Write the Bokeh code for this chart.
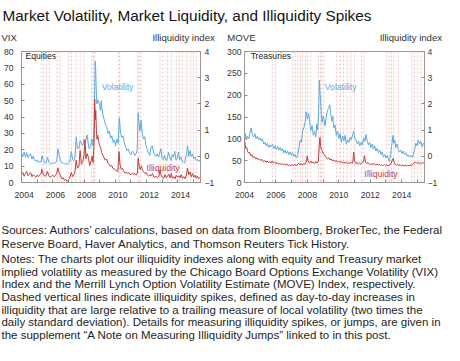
from bokeh.plotting import figure
from bokeh.layouts import column, row
from bokeh.models import Range1d, LinearAxis, FixedTicker, Label, Span, CustomJSTickFormatter
from bokeh.core.properties import value
from bokeh.embed import file_html
from bokeh.resources import INLINE

FONT = "Liberation Sans"
BLUE = "#5aaae0"
RED = "#c23c3c"
SPIKE = "#efc2c2"
AXC = "#333333"

# ---------------- data (decimal years) ----------------
vix_x = [2004.00, 2004.08, 2004.17, 2004.25, 2004.33, 2004.42, 2004.50, 2004.58, 2004.67, 2004.75, 2004.83, 2004.92,
         2005.00, 2005.08, 2005.17, 2005.25, 2005.31, 2005.40, 2005.50, 2005.58, 2005.66, 2005.75, 2005.83, 2005.92,
         2006.00, 2006.08, 2006.17, 2006.25, 2006.33, 2006.42, 2006.50, 2006.58, 2006.67, 2006.75, 2006.83, 2006.92,
         2007.00, 2007.08, 2007.19, 2007.27, 2007.35, 2007.42, 2007.50, 2007.58, 2007.67, 2007.75, 2007.83, 2007.92,
         2008.00, 2008.08, 2008.20, 2008.27, 2008.33, 2008.42, 2008.50, 2008.58, 2008.64, 2008.69, 2008.72, 2008.75,
         2008.78, 2008.82, 2008.88, 2008.94, 2009.00, 2009.05, 2009.10, 2009.15, 2009.22, 2009.30, 2009.38, 2009.46,
         2009.54, 2009.62, 2009.70, 2009.78, 2009.86, 2009.94, 2010.02, 2010.10, 2010.18, 2010.26, 2010.33, 2010.42,
         2010.50, 2010.58, 2010.67, 2010.75, 2010.83, 2010.92, 2011.00, 2011.08, 2011.17, 2011.25, 2011.33, 2011.40,
         2011.46, 2011.52, 2011.58, 2011.65, 2011.72, 2011.80, 2011.88, 2011.96, 2012.04, 2012.12, 2012.20, 2012.28,
         2012.36, 2012.44, 2012.52, 2012.60, 2012.68, 2012.76, 2012.84, 2012.92, 2013.00, 2013.08, 2013.16, 2013.24,
         2013.32, 2013.40, 2013.48, 2013.56, 2013.64, 2013.72, 2013.80, 2013.88, 2013.96, 2014.04, 2014.12, 2014.20,
         2014.28, 2014.36, 2014.44, 2014.50, 2014.56, 2014.62, 2014.70, 2014.78, 2014.86, 2014.94, 2015.02, 2015.10,
         2015.18, 2015.26, 2015.34, 2015.42]
vix_y = [17.7, 15.8, 18.6, 15.5, 18.2, 15.2, 16.8, 17.6, 14.3, 16.2, 13.6, 13.0,
         13.8, 12.0, 13.2, 12.4, 16.4, 13.5, 11.8, 12.2, 15.5, 12.4, 11.6, 11.4,
         12.2, 11.6, 12.0, 13.0, 20.6, 16.0, 13.2, 12.0, 11.8, 11.2, 11.6, 11.0,
         11.8, 12.4, 19.0, 14.0, 13.2, 15.5, 27.6, 21.0, 20.5, 25.5, 24.0, 22.5,
         26.5, 25.0, 29.0, 23.5, 20.5, 22.0, 26.5, 22.5, 32.0, 60.0, 74.0, 68.0,
         57.0, 48.0, 50.5, 49.0, 47.0, 44.0, 50.0, 45.0, 41.0, 38.0, 35.0, 33.5,
         30.0, 31.5, 27.0, 28.5, 24.5, 26.0, 22.5, 26.5, 24.0, 39.5, 30.5, 27.5,
         28.5, 24.0, 21.5, 19.5, 20.5, 18.0, 17.0, 19.0, 18.5, 16.5, 17.5, 20.0,
         42.5, 36.0, 31.5, 38.0, 30.0, 26.5, 28.0, 23.0, 20.0, 18.0, 16.5, 21.5,
         22.5, 19.0, 17.0, 16.0, 17.5, 15.5, 18.0, 20.5, 14.5, 14.0, 16.5, 13.5,
         14.0, 18.5, 16.0, 13.5, 17.0, 15.5, 19.0, 13.8, 14.5, 18.5, 14.0, 15.5,
         13.0, 12.5, 11.8, 15.5, 17.0, 22.5, 16.0, 19.5, 16.0, 17.5, 14.5, 15.5,
         13.5, 14.0, 12.8, 14.0]

eq_ill_x = [2004.00, 2004.08, 2004.17, 2004.25, 2004.33, 2004.42, 2004.50, 2004.58, 2004.67, 2004.75, 2004.83, 2004.92,
            2005.00, 2005.08, 2005.17, 2005.25, 2005.30, 2005.40, 2005.50, 2005.58, 2005.66, 2005.75, 2005.83, 2005.92,
            2006.00, 2006.08, 2006.17, 2006.25, 2006.32, 2006.40, 2006.50, 2006.58, 2006.67, 2006.75, 2006.83, 2006.92,
            2007.00, 2007.08, 2007.19, 2007.27, 2007.35, 2007.42, 2007.50, 2007.58, 2007.67, 2007.75, 2007.83, 2007.92,
            2008.00, 2008.06, 2008.12, 2008.20, 2008.28, 2008.36, 2008.44, 2008.52, 2008.58, 2008.64, 2008.68, 2008.72,
            2008.75, 2008.79, 2008.83, 2008.88, 2008.94, 2009.00, 2009.06, 2009.12, 2009.20, 2009.28, 2009.36, 2009.44,
            2009.52, 2009.60, 2009.68, 2009.76, 2009.84, 2009.92, 2010.00, 2010.08, 2010.16, 2010.24, 2010.30, 2010.38,
            2010.46, 2010.54, 2010.62, 2010.70, 2010.78, 2010.86, 2010.94, 2011.02, 2011.10, 2011.18, 2011.26, 2011.34,
            2011.41, 2011.47, 2011.53, 2011.60, 2011.67, 2011.74, 2011.82, 2011.90, 2011.98, 2012.06, 2012.14, 2012.22,
            2012.30, 2012.38, 2012.46, 2012.54, 2012.62, 2012.70, 2012.78, 2012.86, 2012.94, 2013.02, 2013.10, 2013.18,
            2013.26, 2013.34, 2013.42, 2013.50, 2013.58, 2013.66, 2013.74, 2013.82, 2013.90, 2013.98, 2014.06, 2014.14,
            2014.22, 2014.30, 2014.38, 2014.46, 2014.54, 2014.62, 2014.70, 2014.78, 2014.86, 2014.94, 2015.02, 2015.10,
            2015.18, 2015.26, 2015.34, 2015.42]
eq_ill_y = [-0.70, -0.62, -0.76, -0.66, -0.58, -0.74, -0.68, -0.62, -0.78, -0.70, -0.75, -0.80,
            -0.72, -0.78, -0.70, -0.66, -0.50, -0.70, -0.76, -0.72, -0.58, -0.74, -0.80, -0.76,
            -0.72, -0.78, -0.74, -0.66, -0.44, -0.62, -0.74, -0.86, -0.82, -0.92, -0.88, -0.96,
            -0.90, -0.84, -0.62, -0.78, -0.70, -0.58, -0.15, -0.45, -0.40, 0.22, -0.30, -0.20,
            0.05, 0.62, -0.10, 0.10, -0.05, -0.35, -0.20, 0.00, -0.25, 0.50, 2.18, 1.40,
            1.75, 1.00, 0.65, 0.80, 0.55, 0.40, 0.35, 0.15, 0.05, -0.05, -0.15, -0.10,
            -0.25, -0.30, -0.38, -0.35, -0.45, -0.48, -0.52, -0.56, -0.58, 0.18, -0.30, -0.50,
            -0.46, -0.58, -0.64, -0.60, -0.66, -0.62, -0.70, -0.68, -0.64, -0.70, -0.66, -0.72,
            -0.64, -0.07, -0.40, -0.50, -0.36, -0.55, -0.60, -0.66, -0.62, -0.72, -0.76, -0.70,
            -0.74, -0.66, -0.78, -0.80, -0.76, -0.82, -0.78, -0.52, -0.74, -0.80, -0.84, -0.70,
            -0.82, -0.76, -0.68, -0.82, -0.66, -0.84, -0.78, -0.86, -0.72, -0.80, -0.74, -0.82,
            -0.70, -0.84, -0.78, -0.86, -0.74, -0.45, -0.70, -0.60, -0.78, -0.66, -0.80, -0.72,
            -0.84, -0.76, -0.86, -0.80]

move_x = [2004.00, 2004.05, 2004.10, 2004.18, 2004.26, 2004.34, 2004.42, 2004.50, 2004.58, 2004.66, 2004.74, 2004.82,
          2004.90, 2004.98, 2005.06, 2005.14, 2005.22, 2005.30, 2005.38, 2005.46, 2005.54, 2005.62, 2005.70, 2005.78,
          2005.86, 2005.94, 2006.02, 2006.10, 2006.18, 2006.26, 2006.34, 2006.42, 2006.50, 2006.58, 2006.66, 2006.74,
          2006.82, 2006.90, 2006.98, 2007.06, 2007.14, 2007.22, 2007.30, 2007.38, 2007.46, 2007.54, 2007.62, 2007.70,
          2007.78, 2007.86, 2007.92, 2008.00, 2008.08, 2008.14, 2008.22, 2008.30, 2008.38, 2008.46, 2008.54, 2008.60,
          2008.66, 2008.72, 2008.76, 2008.80, 2008.84, 2008.88, 2008.94, 2009.00, 2009.06, 2009.12, 2009.20, 2009.28,
          2009.36, 2009.42, 2009.48, 2009.56, 2009.62, 2009.68, 2009.76, 2009.84, 2009.92, 2010.00, 2010.08, 2010.16,
          2010.24, 2010.32, 2010.40, 2010.48, 2010.56, 2010.64, 2010.72, 2010.80, 2010.88, 2010.95, 2011.02, 2011.10,
          2011.18, 2011.26, 2011.34, 2011.42, 2011.50, 2011.58, 2011.66, 2011.72, 2011.80, 2011.88, 2011.96, 2012.04,
          2012.12, 2012.20, 2012.28, 2012.36, 2012.44, 2012.52, 2012.60, 2012.68, 2012.76, 2012.84, 2012.92, 2013.00,
          2013.08, 2013.16, 2013.22, 2013.30, 2013.38, 2013.44, 2013.50, 2013.56, 2013.62, 2013.70, 2013.78, 2013.86,
          2013.94, 2014.02, 2014.10, 2014.18, 2014.26, 2014.34, 2014.42, 2014.50, 2014.58, 2014.66, 2014.74, 2014.82,
          2014.90, 2014.98, 2015.06, 2015.14, 2015.22, 2015.30, 2015.38, 2015.44]
move_y = [102, 112, 98, 106, 100, 112, 125, 110, 104, 112, 100, 106,
          98, 102, 95, 100, 88, 92, 84, 90, 80, 86, 82, 88,
          78, 84, 76, 82, 74, 80, 72, 78, 68, 74, 66, 72,
          64, 70, 62, 68, 60, 64, 56, 62, 78, 97, 92, 118,
          126, 140, 162, 145, 159, 141, 119, 130, 108, 118, 104, 134,
          120, 170, 234, 209, 188, 159, 137, 152, 145, 130, 150, 165,
          172, 178, 158, 140, 152, 125, 132, 108, 118, 100, 112, 92,
          106, 96, 108, 88, 98, 92, 104, 98, 110, 117, 100, 98,
          88, 95, 84, 92, 86, 102, 94, 110, 96, 86, 92, 80,
          88, 76, 84, 72, 78, 68, 74, 64, 70, 58, 64, 56,
          62, 52, 48, 66, 88, 108, 90, 97, 80, 88, 76, 70,
          74, 66, 72, 64, 68, 60, 63, 58, 62, 58, 64, 76,
          90, 84, 97, 88, 94, 82, 90, 86]

tr_ill_x = [2004.00, 2004.04, 2004.08, 2004.14, 2004.20, 2004.26, 2004.32, 2004.40, 2004.48, 2004.56, 2004.64, 2004.72,
            2004.80, 2004.88, 2004.96, 2005.04, 2005.12, 2005.20, 2005.28, 2005.36, 2005.44, 2005.52, 2005.60, 2005.68,
            2005.76, 2005.84, 2005.92, 2006.00, 2006.08, 2006.16, 2006.24, 2006.32, 2006.40, 2006.48, 2006.56, 2006.64,
            2006.72, 2006.80, 2006.88, 2006.96, 2007.04, 2007.12, 2007.20, 2007.28, 2007.36, 2007.44, 2007.52, 2007.60,
            2007.68, 2007.76, 2007.84, 2007.92, 2008.00, 2008.06, 2008.14, 2008.22, 2008.30, 2008.38, 2008.46, 2008.54,
            2008.62, 2008.70, 2008.76, 2008.80, 2008.84, 2008.90, 2008.96, 2009.04, 2009.12, 2009.20, 2009.28, 2009.36,
            2009.44, 2009.52, 2009.60, 2009.68, 2009.76, 2009.84, 2009.92, 2010.00, 2010.08, 2010.16, 2010.24, 2010.32,
            2010.40, 2010.48, 2010.56, 2010.64, 2010.72, 2010.80, 2010.88, 2010.95, 2011.00, 2011.08, 2011.16, 2011.24,
            2011.32, 2011.40, 2011.48, 2011.56, 2011.63, 2011.70, 2011.78, 2011.86, 2011.94, 2012.02, 2012.10, 2012.18,
            2012.26, 2012.34, 2012.42, 2012.50, 2012.58, 2012.66, 2012.74, 2012.82, 2012.90, 2012.98, 2013.06, 2013.14,
            2013.22, 2013.30, 2013.38, 2013.46, 2013.52, 2013.58, 2013.66, 2013.74, 2013.82, 2013.90, 2013.98, 2014.06,
            2014.14, 2014.22, 2014.30, 2014.38, 2014.46, 2014.54, 2014.62, 2014.70, 2014.78, 2014.86, 2014.94, 2015.02,
            2015.10, 2015.18, 2015.26, 2015.34, 2015.44]
tr_ill_y = [0.62, 0.45, 0.30, 0.34, 0.18, 0.12, 0.16, 0.02, 0.06, -0.06, -0.02, -0.10,
            -0.06, -0.14, -0.10, -0.16, -0.12, -0.20, -0.16, -0.22, -0.18, -0.24, -0.20, -0.26,
            -0.18, -0.26, -0.22, -0.28, -0.24, -0.30, -0.26, -0.32, -0.28, -0.32, -0.30, -0.34,
            -0.30, -0.36, -0.32, -0.36, -0.32, -0.36, -0.30, -0.36, -0.32, -0.26, -0.32, -0.28,
            -0.34, -0.28, -0.30, -0.22, 0.02, -0.22, -0.26, -0.18, -0.26, -0.22, -0.28, -0.20,
            -0.26, -0.18, 0.45, 0.72, 0.40, 0.26, 0.18, 0.08, 0.02, -0.04, -0.10, -0.06,
            -0.14, -0.10, -0.18, -0.14, -0.20, -0.16, -0.22, -0.18, -0.24, -0.20, -0.26, -0.22,
            -0.26, -0.22, -0.28, -0.24, -0.28, -0.22, -0.26, 0.16, -0.18, -0.28, -0.24, -0.30,
            -0.26, -0.30, -0.24, -0.22, 0.02, -0.22, -0.28, -0.24, -0.30, -0.32, -0.28, -0.32,
            -0.28, -0.34, -0.30, -0.34, -0.30, -0.35, -0.31, -0.36, -0.32, -0.36, -0.32, -0.37,
            -0.33, -0.30, -0.18, -0.08, -0.24, -0.30, -0.34, -0.30, -0.36, -0.32, -0.37, -0.33,
            -0.37, -0.34, -0.38, -0.34, -0.37, -0.33, -0.36, -0.30, -0.26, -0.22, -0.26, -0.22,
            -0.28, -0.24, -0.28, -0.24, -0.27]

eq_spikes = [2005.29, 2005.42, 2005.60, 2005.78, 2006.28, 2006.46, 2007.02, 2007.20, 2007.50, 2007.75,
             2008.00, 2008.49, 2008.60, 2008.68, 2010.22, 2010.28, 2011.45, 2011.51, 2011.63, 2012.86,
             2013.05, 2013.35, 2013.60, 2013.90, 2014.10, 2014.28, 2014.58, 2014.83, 2015.00, 2015.20]
tr_spikes = [2005.77, 2005.97, 2007.08, 2007.23, 2007.38, 2007.57, 2007.69, 2007.88, 2008.00, 2008.22,
             2008.70, 2008.83, 2008.92, 2009.05, 2009.85, 2010.10, 2010.30, 2010.52, 2010.77, 2011.00,
             2011.45, 2011.60, 2013.05, 2013.20, 2013.35, 2013.50, 2013.78, 2014.65, 2014.80, 2015.02, 2015.23]

years = [2004, 2005, 2006, 2007, 2008, 2009, 2010, 2011, 2012, 2013, 2014, 2015]
eq_year_label_pos = [2004.17, 2006.17, 2008.17, 2010.17, 2012.17, 2014.17]
tr_year_label_pos = [2004.0, 2006.0, 2008.0, 2010.0, 2012.0, 2014.0]
vix_ticks = [0, 10, 20, 30, 40, 50, 60, 70, 80]
move_ticks = [0, 50, 100, 150, 200, 250, 300]
ill_ticks = [-1, 0, 1, 2, 3, 4]

title_text = "Market Volatility, Market Liquidity, and Illiquidity Spikes"
note_lines = [
    "Sources: Authors\u2019 calculations, based on data from Bloomberg, BrokerTec, the Federal",
    "Reserve Board, Haver Analytics, and Thomson Reuters Tick History.",
    "Notes: The charts plot our illiquidity indexes along with equity and Treasury market",
    "implied volatility as measured by the Chicago Board Options Exchange Volatility (VIX)",
    "Index and the Merrill Lynch Option Volatility Estimate (MOVE) Index, respectively.",
    "Dashed vertical lines indicate illiquidity spikes, defined as day-to-day increases in",
    "illiquidity that are large relative to a trailing measure of local volatility (two times the",
    "daily standard deviation). Details for measuring illiquidity spikes, or jumps, are given in",
    "the supplement \u201cA Note on Measuring Illiquidity Jumps\u201d linked to in this post.",
]

X0, X1 = 2004.0, 2015.45

# page fits a 444 x 345 area (window minus the 8px body margin)
SX = 444 / 460
SY = 345 / 361
FS = 0.96


def px(v):
    return "%.2fpx" % (v * FS)


def style_axis(ax):
    ax.axis_line_color = None
    ax.major_tick_in = 3
    ax.major_tick_out = 0
    ax.minor_tick_in = 0
    ax.minor_tick_out = 0
    ax.major_tick_line_color = "#8a8a8a"
    ax.major_label_text_font = FONT
    ax.major_label_text_font_size = px(9)
    ax.major_label_text_color = AXC


def panel(vx, vy, ix, iy, spikes, ymax, yticks, label_pos, bl, br, lstand, rstand, tag, tag_pos, vol_pos, ill_pos):
    p = figure(width=222, height=172, x_range=Range1d(X0, X1), y_range=Range1d(0, ymax),
               output_backend="svg", toolbar_location=None, title=None,
               min_border_left=bl, min_border_right=br, min_border_top=8, min_border_bottom=33,
               background_fill_color="white", border_fill_color="white")
    p.outline_line_color = "#9a9a9a"
    p.outline_line_width = 1
    p.xgrid.visible = False
    p.ygrid.visible = False
    p.extra_y_ranges = {"ill": Range1d(-1, 4)}
    rax = LinearAxis(y_range_name="ill")
    p.add_layout(rax, "right")

    for s in spikes:
        p.add_layout(Span(location=s, dimension="height", line_color=SPIKE, line_width=1,
                          line_dash="2 2", level="underlay"))

    p.line(vx, vy, line_color=BLUE, line_width=1)
    p.line(ix, iy, line_color=RED, line_width=1, y_range_name="ill")

    xa = p.xaxis[0]
    style_axis(xa)
    xa.ticker = FixedTicker(ticks=label_pos, minor_ticks=years)
    xa.formatter = CustomJSTickFormatter(code="return String(Math.round(tick));")
    xa.major_tick_in = 0
    xa.minor_tick_in = 3
    xa.minor_tick_line_color = "#8a8a8a"
    xa.major_label_standoff = 9

    ya = p.yaxis[0]
    style_axis(ya)
    ya.ticker = FixedTicker(ticks=yticks)
    ya.major_label_standoff = lstand

    style_axis(rax)
    rax.ticker = FixedTicker(ticks=ill_ticks)
    rax.formatter = CustomJSTickFormatter(
        code="return tick < 0 ? '\u2212' + String(Math.abs(tick)) : String(tick);")
    rax.major_label_standoff = rstand

    p.add_layout(Label(x=tag_pos[0], y=tag_pos[1], text=tag, text_font=FONT, text_font_size=px(9),
                       text_color="#222222", text_baseline="middle"))
    p.add_layout(Label(x=vol_pos[0], y=vol_pos[1], text="Volatility", text_font=FONT, text_font_size=px(9),
                       text_color=BLUE, text_baseline="middle"))
    p.add_layout(Label(x=ill_pos[0], y=ill_pos[1], text="Illiquidity", text_font=FONT, text_font_size=px(9),
                       text_color=RED, text_baseline="middle"))
    return p


left = panel(vix_x, vix_y, eq_ill_x, eq_ill_y, eq_spikes, 80, vix_ticks, eq_year_label_pos,
             20, 22, 8, 4, "Equities", (2004.25, 77), (2009.13, 58.4), (2012.0, 8.8))
right = panel(move_x, move_y, tr_ill_x, tr_ill_y, tr_spikes, 300, move_ticks, tr_year_label_pos,
              22, 20, 3, 3, "Treasuries", (2004.39, 289), (2009.11, 219), (2011.64, 19.7))


def text_fig(h):
    f = figure(width=444, height=h, x_range=Range1d(0, 460), y_range=Range1d(h / SY, 0),
               output_backend="svg", toolbar_location=None, min_border=0, title=None,
               x_axis_location=None, y_axis_location=None)
    f.outline_line_color = None
    f.xgrid.visible = False
    f.ygrid.visible = False
    return f


top = text_fig(43)
top.add_layout(Label(x=2, y=15.7, text=title_text, text_font=FONT, text_font_size=px(16),
                     text_color="#141414", text_baseline="alphabetic"))
for x, txt, align in [(1, "VIX", "left"), (222, "Illiquidity index", "right"),
                      (235, "MOVE", "left"), (457.5, "Illiquidity index", "right")]:
    top.add_layout(Label(x=x, y=39, text=txt, text_font=FONT, text_font_size=px(10),
                         text_color=AXC, text_align=align, text_baseline="alphabetic"))

notes = text_fig(130)
note_y = [15.3, 29.3, 45.3, 58.6, 71.9, 85.3, 98.6, 111.9, 125.3]
notes.text(x=[1] * len(note_lines), y=note_y, text=note_lines, text_font=value(FONT),
           text_font_size=px(12), text_color="#1e1e1e", text_baseline="alphabetic")

layout = column(top, row(left, right, spacing=0), notes, spacing=0)

open("out.html", "w").write(file_html(layout, INLINE))
